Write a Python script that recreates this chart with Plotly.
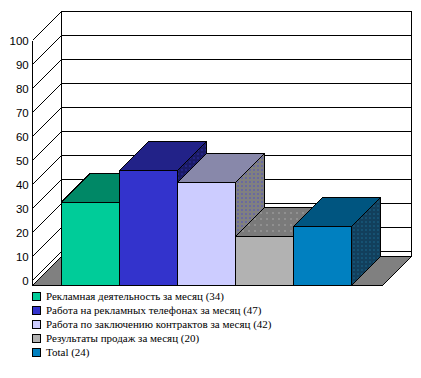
import plotly.graph_objects as go

series = ["Рекламная деятельность за месяц", "Работа на рекламных телефонах за месяц",
          "Работа по заключению контрактов за месяц", "Результаты продаж за месяц", "Total"]
values = [34, 47, 42, 20, 24]
front_colors = ["#00CC99", "#3333CC", "#CCCCFF", "#B2B2B2", "#0080C0"]
top_colors = ["#008866", "#222288", "#8888AA", "#7A7A7A", "#005580"]
side_fg = ["#222288", "#3030B0", "#4A4ACC", "#999999", "#1A6A90"]
side_bg = ["#006650", "#1A1A66", "#808080", "#666666", "#123F5C"]
ticks = list(range(0, 101, 10))

W, H = 421, 378
UNIT_PX = 58      # one bar slot
BAR_SCALE = 2.45  # px per value for bars
TICK_SCALE = 2.4  # px per value for axis ticks and grid
X0, Y_BAR0, Y_TICK0 = 61.5, 285.5, 280.5
DX = 29 / UNIT_PX
DY_BAR = 29 / BAR_SCALE
DY_TICK = 29 / TICK_SCALE
WALL_LEFT, FLOOR_RIGHT = -DX, 5 + DX + 0.035
BACK_RIGHT = FLOOR_RIGHT + DX

fig = go.Figure()


def poly(xs, ys, color, pattern=None):
    kw = dict(fillpattern=pattern) if pattern else {}
    fig.add_trace(go.Scatter(x=xs, y=ys, mode="lines", fill="toself", fillcolor=color,
                             line=dict(color="black", width=1), yaxis="y2",
                             hoverinfo="skip", showlegend=False, **kw))


def line(xs, ys):
    fig.add_trace(go.Scatter(x=xs, y=ys, mode="lines", line=dict(color="black", width=1),
                             yaxis="y", hoverinfo="skip", showlegend=False))


# grid: left wall diagonal + back wall line
for t in ticks:
    line([WALL_LEFT, 0, BACK_RIGHT], [t, t + DY_TICK, t + DY_TICK])
# wall frame
line([WALL_LEFT, WALL_LEFT], [ticks[0] - 5 / TICK_SCALE, ticks[-1]])
line([0, 0], [ticks[0] - 5 / TICK_SCALE + DY_TICK, ticks[-1] + DY_TICK])
line([BACK_RIGHT, BACK_RIGHT], [ticks[0] - 5 / TICK_SCALE + DY_TICK, ticks[-1] + DY_TICK])

# floor
poly([WALL_LEFT, 0, BACK_RIGHT, FLOOR_RIGHT, WALL_LEFT], [0, DY_BAR, DY_BAR, 0, 0], "#808080")

# bars, painted left to right
for i, v in enumerate(values):
    side = dict(shape=".", size=4, solidity=0.12, fgcolor=side_fg[i], bgcolor=side_bg[i], fillmode="replace")
    poly([i + 1, i + 1 + DX, i + 1 + DX, i + 1, i + 1], [0, DY_BAR, v + DY_BAR, v, 0], side_bg[i], pattern=side)
    if i == 3:
        top_pattern = dict(shape=".", size=6, solidity=0.05, fgcolor="#B0B0B0", bgcolor=top_colors[i], fillmode="replace")
        poly([i, i + 1, i + 1 + DX, i + DX, i], [v, v, v + DY_BAR, v + DY_BAR, v], top_colors[i], pattern=top_pattern)
    else:
        poly([i, i + 1, i + 1 + DX, i + DX, i], [v, v, v + DY_BAR, v + DY_BAR, v], top_colors[i])
    poly([i, i + 1, i + 1, i, i], [0, 0, v, v, 0], front_colors[i])

shapes, annotations = [], []
LEGEND_Y = [296, 310, 324, 338, 352]
for name, v, c, ly in zip(series, values, front_colors, LEGEND_Y):
    shapes.append(dict(type="rect", xref="paper", yref="paper", x0=32.5 / W, x1=40.5 / W,
                       y0=1 - (ly + 4) / H, y1=1 - (ly - 4) / H, fillcolor=c,
                       line=dict(color="black", width=1), layer="above"))
    annotations.append(dict(xref="paper", yref="paper", x=44 / W, y=1 - ly / H, xanchor="left",
                            yanchor="middle", showarrow=False, text=f"{name} ({v})",
                            font=dict(family="Liberation Serif", size=11, color="black")))

fig.update_layout(
    width=W, height=H, margin=dict(l=0, r=0, t=0, b=0), showlegend=False,
    paper_bgcolor="white", plot_bgcolor="white",
    xaxis=dict(range=[-X0 / UNIT_PX, (W - X0) / UNIT_PX], visible=False, fixedrange=True),
    yaxis2=dict(range=[(Y_BAR0 - H) / BAR_SCALE, Y_BAR0 / BAR_SCALE], visible=False, fixedrange=True,
                overlaying="y"),
    yaxis=dict(range=[(Y_TICK0 - H) / TICK_SCALE, Y_TICK0 / TICK_SCALE], side="left",
               anchor="free", position=34 / W, tickvals=ticks, ticktext=[str(t) for t in ticks],
               showgrid=False, zeroline=False, showline=False, ticks="outside", ticklen=3,
               tickcolor="rgba(0,0,0,0)", tickfont=dict(family="Liberation Sans", size=11.5, color="black"),
               fixedrange=True),
    shapes=shapes, annotations=annotations,
)
fig.write_html("out.html", config=dict(displayModeBar=False), post_script=(
    "document.body.style.margin='0';document.body.style.overflow='hidden';"
    "var s=document.createElement('style');s.textContent='.scatterlayer path,.layer-above path{shape-rendering:crispEdges}';"
    "document.head.appendChild(s);"))
